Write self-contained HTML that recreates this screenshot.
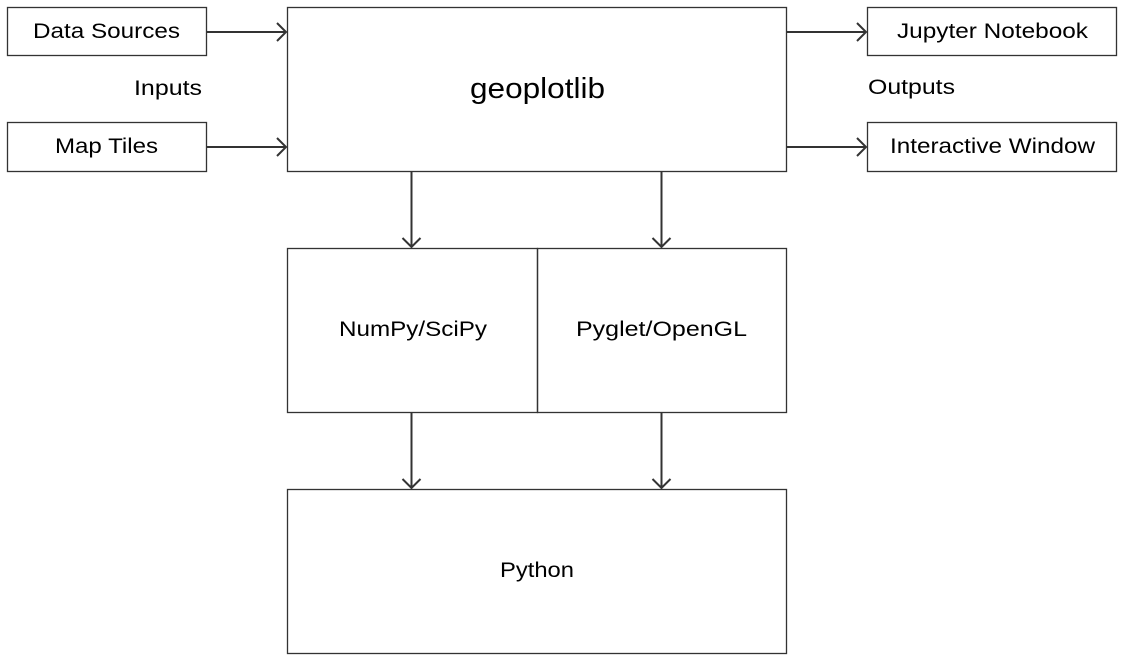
<!DOCTYPE html>
<html><head><style>
html,body{margin:0;padding:0;background:#fff;width:1125px;height:662px;overflow:hidden}
text{font-family:"Liberation Sans",sans-serif;fill:#000}
</style></head><body>
<svg width="1125" height="662" xmlns="http://www.w3.org/2000/svg">
<g fill="none" stroke="#333" stroke-width="1.3">
<rect x="7.5" y="7.5" width="199" height="48"/>
<rect x="7.5" y="122.5" width="199" height="49"/>
<rect x="287.5" y="7.5" width="499" height="164"/>
<rect x="867.5" y="7.5" width="249" height="48"/>
<rect x="867.5" y="122.5" width="249" height="49"/>
<rect x="287.5" y="248.5" width="250" height="164"/>
<rect x="537.5" y="248.5" width="249" height="164"/>
<rect x="287.5" y="489.5" width="499" height="164"/>
</g>
<g fill="none" stroke="#333" stroke-width="2">
<path d="M207 32H286M277 23l9 9-9 9"/>
<path d="M207 147H286M277 138l9 9-9 9"/>
<path d="M787 32H866M857 23l9 9-9 9"/>
<path d="M787 147H866M857 138l9 9-9 9"/>
<path d="M411.5 172V247M402.5 238l9 9 9-9"/>
<path d="M661.5 172V247M652.5 238l9 9 9-9"/>
<path d="M411.5 413V488M402.5 479l9 9 9-9"/>
<path d="M661.5 413V488M652.5 479l9 9 9-9"/>
</g>
<g font-size="21">
<text x="33" y="38" textLength="147" lengthAdjust="spacingAndGlyphs">Data Sources</text>
<text x="55" y="153" textLength="103" lengthAdjust="spacingAndGlyphs">Map Tiles</text>
<text x="134" y="95" textLength="68" lengthAdjust="spacingAndGlyphs">Inputs</text>
<text x="868" y="94" textLength="87" lengthAdjust="spacingAndGlyphs">Outputs</text>
<text x="897" y="38" textLength="191" lengthAdjust="spacingAndGlyphs">Jupyter Notebook</text>
<text x="890" y="153" textLength="205" lengthAdjust="spacingAndGlyphs">Interactive Window</text>
<text x="339" y="336" textLength="148" lengthAdjust="spacingAndGlyphs">NumPy/SciPy</text>
<text x="576" y="336" textLength="171" lengthAdjust="spacingAndGlyphs">Pyglet/OpenGL</text>
<text x="500" y="577" textLength="74" lengthAdjust="spacingAndGlyphs">Python</text>
<text x="470" y="98" font-size="29" textLength="135" lengthAdjust="spacingAndGlyphs">geoplotlib</text>
</g>
</svg>
</body></html>
